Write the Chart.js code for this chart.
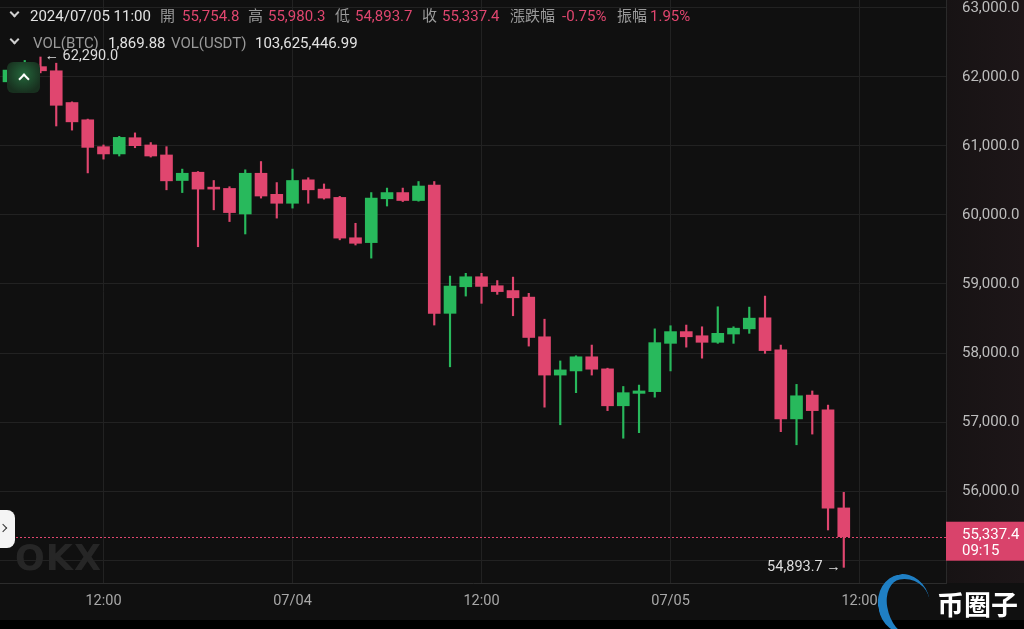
<!DOCTYPE html>
<html>
<head>
<meta charset="utf-8">
<script src="https://cdn.jsdelivr.net/npm/chart.js@4.4.1/dist/chart.umd.min.js"></script>
<style>
html,body{margin:0;padding:0;background:#101010;}
#wrap{position:relative;width:1024px;height:629px;overflow:hidden;font-family:Roboto,"Noto Sans CJK TC",sans-serif;}
#c{position:absolute;left:0;top:0;}
.t{position:absolute;font-size:15px;line-height:18px;white-space:nowrap;}
.w{color:#e2e2e2}.g{color:#9a9a9a}.r{color:#e0466f}
.chev{position:absolute;width:5px;height:5px;border-right:2px solid #cfcfcf;border-bottom:2px solid #cfcfcf;transform:rotate(45deg);}
#upbtn{position:absolute;left:7px;top:62px;width:33px;height:31px;border-radius:6px;background:radial-gradient(circle at 50% 40%,#24663b,#18301f 75%);}
#upbtn i{position:absolute;left:13px;top:13px;width:6px;height:6px;border-left:2px solid #fff;border-top:2px solid #fff;transform:rotate(45deg);}
#tab{position:absolute;left:-8px;top:510px;width:23px;height:38px;border-radius:8px;background:#f4f4f4;}
#tab i{position:absolute;left:8px;top:15px;width:5px;height:5px;border-right:1.5px solid #333;border-top:1.5px solid #333;transform:rotate(45deg);}
#okx{position:absolute;left:15px;top:538px;font-size:35px;font-weight:900;color:#262626;letter-spacing:1px;font-family:"DejaVu Sans",sans-serif;}
#logo{position:absolute;left:878px;top:574px;width:52px;height:60px;border-radius:50%;border-left:9px solid #1f7fc4;border-top:5px solid #1f7fc4;box-sizing:border-box;transform:rotate(-10deg);}
#bqz{position:absolute;left:937px;top:587px;font-size:27px;font-weight:bold;color:#fff;font-family:"Noto Sans CJK SC",sans-serif;line-height:34px;white-space:nowrap;}
</style>
</head>
<body>
<div id="wrap">
<canvas id="c" width="1024" height="629"></canvas>

<span class="chev" style="left:11px;top:9px"></span>
<span class="t w" style="left:30px;top:7px">2024/07/05 11:00</span>
<span class="t g" style="left:160px;top:7px">開</span><span class="t r" style="left:182px;top:7px">55,754.8</span>
<span class="t g" style="left:248px;top:7px">高</span><span class="t r" style="left:268px;top:7px">55,980.3</span>
<span class="t g" style="left:335px;top:7px">低</span><span class="t r" style="left:355px;top:7px">54,893.7</span>
<span class="t g" style="left:422px;top:7px">收</span><span class="t r" style="left:442px;top:7px">55,337.4</span>
<span class="t g" style="left:510px;top:7px">漲跌幅</span><span class="t r" style="left:562px;top:7px">-0.75%</span>
<span class="t g" style="left:617px;top:7px">振幅</span><span class="t r" style="left:650px;top:7px">1.95%</span>

<span class="chev" style="left:11px;top:36px"></span>
<span class="t g" style="left:33px;top:34px">VOL(BTC)</span><span class="t w" style="left:108px;top:34px">1,869.88</span>
<span class="t g" style="left:171px;top:34px">VOL(USDT)</span><span class="t w" style="left:255px;top:34px">103,625,446.99</span>

<div id="upbtn"><i></i></div>
<div id="tab"><i></i></div>
<div id="okx">OKX</div>
<div id="logo"></div>
<div id="bqz">币圈子</div>
</div>

<script>
// 1h candles, 2024/07/03 06:00 -> 2024/07/05 11:00
const opens  = [61930,62100,62150,62090,61630,61380,60990,60885,61120,61015,
                60870,60500,60620,60385,60385,60015,60605,60300,60170,60510,
                60375,60255,59670,59600,60235,60325,60210,60435,58575,58960,
                59105,58975,58905,58810,58235,57680,57740,57945,57770,57235,
                57415,57440,58140,58310,58250,58155,58275,58350,58510,58045,
                57045,57390,57175,55754.8];
const highs  = [62150,62240,62290,62200,61640,61390,61015,61140,61190,61050,
                60990,60665,60630,60500,60410,60655,60775,60470,60665,60540,
                60450,60270,59880,60325,60390,60390,60485,60485,59115,59155,
                59155,59050,59100,58865,58490,57885,57960,58115,57780,57515,
                57535,58350,58395,58405,58380,58670,58380,58665,58825,58115,
                57545,57450,57245,55980.3];
const lows   = [61880,62050,62060,61290,61230,60610,60810,60855,60975,60840,
                60365,60325,59540,60075,59905,59725,60245,59955,60100,60170,
                60230,59640,59565,59375,60130,60195,60200,58405,57800,58825,
                58720,58850,58540,58100,57215,56960,57425,57680,57165,56765,
                56845,57360,57740,58085,57925,58140,58140,58285,57995,56860,
                56670,56825,55435,54893.7];
const closes = [62100,62150,62090,61590,61350,60980,60885,61125,61005,60855,
                60495,60605,60375,60375,60035,60605,60275,60170,60500,60365,
                60245,59665,59590,60245,60325,60210,60420,58575,58970,59105,
                58965,58890,58800,58225,57680,57755,57945,57765,57235,57425,
                57450,58150,58310,58235,58155,58285,58360,58505,58035,57045,
                57380,57165,55750,55337.4];

const xTickPos    = [6, 18, 30, 42, 54];
const xTickLabels = ['12:00', '07/04', '12:00', '07/05', '12:00'];
const yTicks      = [55000, 56000, 57000, 58000, 59000, 60000, 61000, 62000, 63000];
const lastTime    = '09:15';

const RED = '#e0466f', GREEN = '#28b95c';
const idx = opens.map((_, i) => i);
const colors = idx.map(i => closes[i] >= opens[i] ? GREEN : RED);
const last = closes.length - 1;
const fmt = v => v.toLocaleString('en-US', {minimumFractionDigits: 1, maximumFractionDigits: 1});

const bgPlugin = {
  id: 'bg',
  beforeDraw(chart) {
    const ctx = chart.ctx, a = chart.chartArea;
    ctx.save();
    ctx.fillStyle = '#101010';
    ctx.fillRect(0, 0, chart.width, chart.height);
    const g = ctx.createLinearGradient(a.right, 0, chart.width, 0);
    g.addColorStop(0, '#171314'); g.addColorStop(1, '#1d1618');
    ctx.fillStyle = g;
    ctx.fillRect(a.right, 0, chart.width - a.right, a.bottom);
    ctx.fillStyle = '#000';
    ctx.fillRect(0, 620, chart.width, chart.height - 620);
    ctx.restore();
  }
};

const marksPlugin = {
  id: 'marks',
  afterDraw(chart) {
    const ctx = chart.ctx, a = chart.chartArea;
    const xs = chart.scales.x, ys = chart.scales.y;
    const yc = ys.getPixelForValue(closes[last]);
    ctx.save();
    // last price line
    ctx.strokeStyle = RED; ctx.lineWidth = 1; ctx.setLineDash([2, 2]);
    ctx.beginPath(); ctx.moveTo(a.left, Math.round(yc) + 0.5); ctx.lineTo(a.right, Math.round(yc) + 0.5); ctx.stroke();
    ctx.setLineDash([]);
    // price box
    ctx.fillStyle = '#d9436b';
    ctx.fillRect(a.right, yc - 15, chart.width - a.right, 39);
    ctx.fillStyle = '#fff'; ctx.font = '15px Roboto'; ctx.textBaseline = 'middle'; ctx.textAlign = 'left';
    ctx.fillText(fmt(closes[last]), a.right + 16, yc - 1);
    ctx.fillText(lastTime, a.right + 16, yc + 15);
    // high / low marks
    let hi = 0, lo = 0;
    idx.forEach(i => { if (highs[i] > highs[hi]) hi = i; if (lows[i] < lows[lo]) lo = i; });
    ctx.fillStyle = '#dcdcdc'; ctx.font = '14.5px Roboto';
    ctx.textAlign = 'left';
    ctx.fillText('\u2190 ' + fmt(highs[hi]), xs.getPixelForValue(hi) + 4, ys.getPixelForValue(highs[hi]) - 1);
    ctx.textAlign = 'right';
    ctx.fillText(fmt(lows[lo]) + ' \u2192', xs.getPixelForValue(lo) - 3, ys.getPixelForValue(lows[lo]));
    ctx.restore();
  }
};

new Chart(document.getElementById('c'), {
  type: 'bar',
  data: {
    datasets: [
      {
        label: 'body', order: 0, grouped: false,
        data: idx.map(i => ({x: i, y: [opens[i], closes[i]]})),
        backgroundColor: colors, borderWidth: 0, barThickness: 12, minBarLength: 2
      },
      {
        label: 'wick', order: 1, grouped: false,
        data: idx.map(i => ({x: i, y: [lows[i], highs[i]]})),
        backgroundColor: colors, borderWidth: 0, barThickness: 1.5
      }
    ]
  },
  options: {
    responsive: false, animation: false,
    layout: {padding: 0},
    plugins: {legend: {display: false}, tooltip: {enabled: false}},
    scales: {
      x: {
        type: 'linear', min: -0.571, max: 59.49, offset: false,
        grid: {color: '#222222', drawTicks: false, offset: false},
        border: {color: '#2c2c2c'},
        afterBuildTicks: s => { s.ticks = xTickPos.map(v => ({value: v})); },
        ticks: {
          callback: v => xTickLabels[xTickPos.indexOf(v)],
          color: '#a8a8a8', font: {size: 14.5, family: 'Roboto'}, padding: 10, maxRotation: 0, autoSkip: false
        },
        afterFit: s => { s.height = 46; s.paddingLeft = 0; s.paddingRight = 0; }
      },
      y: {
        position: 'right', min: 54666.7, max: 63115.9,
        grid: {color: '#222222', drawTicks: false},
        border: {display: true, color: '#2a2a2a'},
        afterBuildTicks: s => { s.ticks = yTicks.map(v => ({value: v})); },
        // labels under the last-price box are not shown
        ticks: {
          callback: v => Math.abs(v - closes[last]) < 400 ? '' : fmt(v),
          color: '#bdbdbd', font: {size: 15, family: 'Roboto'}, padding: 16
        },
        afterFit: s => { s.width = 78; s.paddingTop = 0; s.paddingBottom = 0; }
      }
    }
  },
  plugins: [bgPlugin, marksPlugin]
});
</script>
</body>
</html>
